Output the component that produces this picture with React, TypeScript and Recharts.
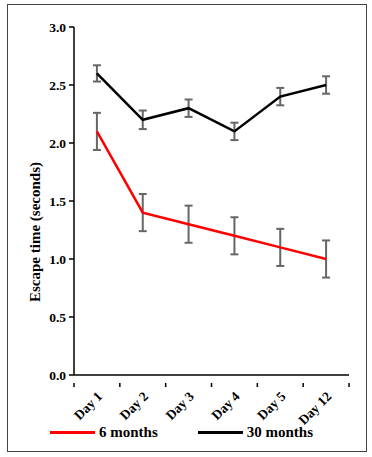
import React from "react";
import { ErrorBar, Line, LineChart, XAxis, YAxis } from "recharts";

const days = ["Day 1", "Day 2", "Day 3", "Day 4", "Day 5", "Day 12"];
const sixMonths = [2.1, 1.4, 1.3, 1.2, 1.1, 1.0];
const sixMonthsErr = [0.16, 0.16, 0.16, 0.16, 0.16, 0.16];
const thirtyMonths = [2.6, 2.2, 2.3, 2.1, 2.4, 2.5];
const thirtyMonthsErr = [0.07, 0.08, 0.075, 0.075, 0.075, 0.075];
const yTicks = [0, 0.5, 1.0, 1.5, 2.0, 2.5, 3.0];

const series = [
  { key: "six", name: "6 months", color: "#ff0000" },
  { key: "thirty", name: "30 months", color: "#000000" },
];

const data = days.map((day, i) => ({
  day,
  six: sixMonths[i],
  sixErr: sixMonthsErr[i],
  thirty: thirtyMonths[i],
  thirtyErr: thirtyMonthsErr[i],
}));

const font = "'Liberation Serif', 'Times New Roman', serif";

const W = 372;
const H = 457;
const margin = { top: 27, right: 23, left: 14, bottom: 0 };
const yAxisWidth = 60;
const plotWidth = W - margin.left - margin.right - yAxisWidth;
const halfBand = plotWidth / days.length / 2;

// label at band centre, tick marks at band edges (Excel-style category axis)
const DayTick = (props: any) => {
  const { x, y, payload, index } = props;
  const ax = x + 3;
  const ay = y + 11;
  const edge = (ex: number) => (
    <line x1={ex} y1={y} x2={ex} y2={y + 4} stroke="#000" strokeWidth={1.5} />
  );
  return (
    <g>
      {edge(x - halfBand)}
      {index === days.length - 1 && edge(x + halfBand)}
      <text
        x={ax}
        y={ay}
        transform={`rotate(-45 ${ax} ${ay})`}
        textAnchor="end"
        dominantBaseline="central"
        fontFamily={font}
        fontWeight="bold"
        fontSize={13.5}
        fill="#000"
      >
        {payload.value}
      </text>
    </g>
  );
};

const YLabel = () => {
  const cx = 35;
  const cy = 232;
  return (
    <text
      x={cx}
      y={cy}
      transform={`rotate(-90 ${cx} ${cy})`}
      textAnchor="middle"
      dominantBaseline="central"
      fontFamily={font}
      fontWeight="bold"
      fontSize={15}
      fill="#000"
    >
      Escape time (seconds)
    </text>
  );
};

const ChartLegend = () => (
  <div
    style={{
      position: "absolute",
      left: 0,
      top: 423,
      display: "flex",
      fontFamily: font,
      fontWeight: "bold",
      fontSize: 15,
      lineHeight: "18px",
    }}
  >
    {series.map((s, i) => (
      <div
        key={s.key}
        style={{ display: "flex", alignItems: "center", marginLeft: i === 0 ? 50 : 40 }}
      >
        <div style={{ width: 45, height: 3, background: s.color, marginRight: 4 }} />
        <span>{s.name}</span>
      </div>
    ))}
  </div>
);

export default function App() {
  return (
    <div style={{ position: "absolute", left: 0, top: 0, width: W, height: H, background: "#fff" }}>
      <div
        style={{
          position: "absolute",
          left: 7,
          top: 4,
          width: 358,
          height: 446,
          border: "1px solid #444",
        }}
      />
      <LineChart width={W} height={H} data={data} margin={margin}>
        <XAxis
          dataKey="day"
          scale="band"
          height={82}
          stroke="#000"
          strokeWidth={1.5}
          tickLine={false}
          tick={<DayTick />}
          interval={0}
        />
        <YAxis
          domain={[0, 3]}
          ticks={yTicks}
          width={yAxisWidth}
          stroke="#000"
          strokeWidth={1.5}
          tickSize={5}
          tickMargin={3}
          tickFormatter={(v: number) => v.toFixed(1)}
          tick={{ fontFamily: font, fontWeight: "bold", fontSize: 13.5, fill: "#000" }}
        />
        {series.map((s) => (
          <Line
            key={s.key}
            dataKey={s.key}
            name={s.name}
            stroke={s.color}
            strokeWidth={2.5}
            dot={false}
            activeDot={false}
            isAnimationActive={false}
          >
            <ErrorBar dataKey={`${s.key}Err`} width={4} stroke="#666" strokeWidth={2} direction="y" />
          </Line>
        ))}
      </LineChart>
      <svg style={{ position: "absolute", left: 0, top: 0 }} width={W} height={H} pointerEvents="none">
        <YLabel />
      </svg>
      <ChartLegend />
    </div>
  );
}
